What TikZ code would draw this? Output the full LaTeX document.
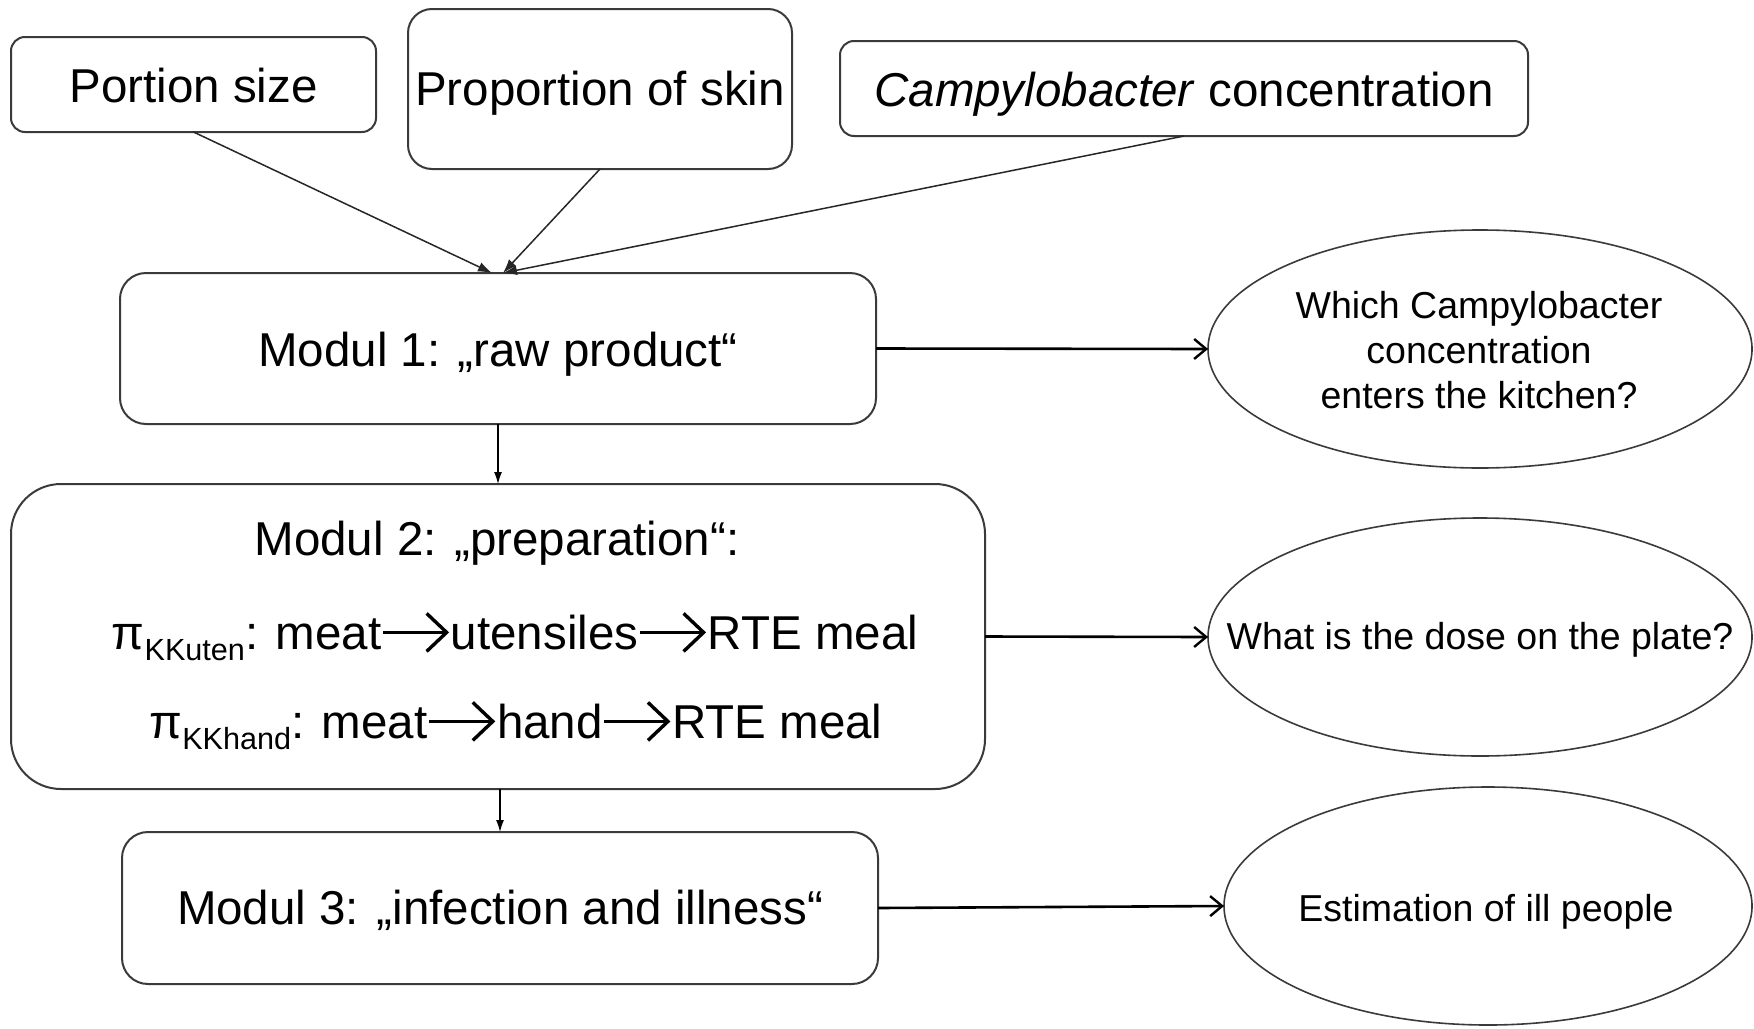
\documentclass[tikz,border=0pt]{standalone}
\usepackage{fontspec}
\setmainfont{Liberation Sans}
\usetikzlibrary{arrows.meta,shapes.geometric}
\definecolor{bordergray}{HTML}{3A3A3A}
\newcommand\fbig{\fontsize{23.75}{28.5}\selectfont}
\newcommand\fell{\fontsize{18.75}{22.65}\selectfont}
\newcommand\fsubs{\fontsize{15.3}{18}\selectfont}
\newcommand\arr{\tikz[baseline=0pt,x=1pt,y=1pt]\draw[line width=1.7pt,-{Straight Barb[length=10pt,width=19pt,line width=1.7pt]}] (0,8.3) -- (33,8.3);}
\newcommand\dn[2]{\raisebox{-#1}[\height][\depth]{#2}}
\begin{document}
\begin{tikzpicture}[x=0.5pt,y=-0.5pt,
  box/.style={draw=bordergray,line width=1pt,rounded corners=#1,inner sep=0pt,outer sep=0pt,align=center,font=\fbig},
  box/.default=12pt,
  ell/.style={draw=bordergray,line width=0.8pt,ellipse,inner sep=0pt,outer sep=0pt},
  etext/.style={inner sep=0pt,align=center,font=\fell},
  mtext/.style={inner sep=0pt,anchor=base,font=\fbig},
  toparrow/.style={draw=black!85,line width=0.75pt,-{Latex[length=7pt,width=5pt]}},
  downarrow/.style={draw=black,line width=0.6pt,-{Latex[length=6pt,width=4pt]}},
  sidearrow/.style={draw=black,line width=1.3pt,-{Straight Barb[length=6pt,width=10pt,line width=1.2pt]}}]
\useasboundingbox (0,0) rectangle (1754,1028);
% top input boxes
\node[box=7pt,minimum width=182.5pt,minimum height=47.5pt] (portion) at (193.5,84.5) {\dn{0.5pt}{Portion size}};
\node[box=12pt,minimum width=192pt,minimum height=80pt] (skin) at (600,89) {\dn{2.2pt}{Proportion of skin}};
\node[box=7pt,minimum width=344pt,minimum height=47.5pt] (campy) at (1184,88.5) {\dn{2.8pt}{\textit{Campylobacter} concentration}};
% modules
\node[box=13pt,minimum width=378pt,minimum height=75.5pt] (m1) at (498,348.5) {\dn{2.8pt}{Modul 1: „raw product“}};
\node[box=25pt,minimum width=487pt,minimum height=152.5pt] (m2) at (498,636.5) {};
\node[mtext] (m2a) at (497,555) {Modul 2: „preparation“:};
\node[mtext] (m2b) at (515,649) {π\raisebox{-5.5pt}{\fsubs KKuten}: meat\arr utensiles\arr RTE meal};
\node[mtext] (m2c) at (516,738) {π\raisebox{-5.5pt}{\fsubs KKhand}: meat\arr hand\arr RTE meal};
\node[box=13pt,minimum width=378pt,minimum height=76pt] (m3) at (500,908) {\dn{1.1pt}{Modul 3: „infection and illness“}};
% result ellipses
\node[ell,minimum width=272pt,minimum height=119pt] (e1) at (1480,349) {};
\node[etext] (e1t) at (1479,350) {Which Campylobacter\\concentration\\enters the kitchen?};
\node[ell,minimum width=272pt,minimum height=119pt] (e2) at (1480,637) {};
\node[etext] (e2t) at (1480,640) {What is the dose on the plate?};
\node[ell,minimum width=264pt,minimum height=119pt] (e3) at (1488,906) {};
\node[etext] (e3t) at (1486,912) {Estimation of ill people};
% connectors
\draw[toparrow] (portion.south) -- ([xshift=-3pt]m1.north);
\draw[toparrow] (skin.south) -- ([xshift=2.5pt]m1.north);
\draw[toparrow] (campy.south) -- ([xshift=2.5pt]m1.north);
\draw[downarrow] (m1.south) -- (m1.south |- m2.north);
\draw[downarrow] (m3.north |- m2.south) -- (m3.north);
\draw[sidearrow] (m1.east) -- (e1.west);
\draw[sidearrow] (m2.east) -- (e2.west);
\draw[sidearrow] (m3.east) -- (e3.west);
\end{tikzpicture}
\end{document}
